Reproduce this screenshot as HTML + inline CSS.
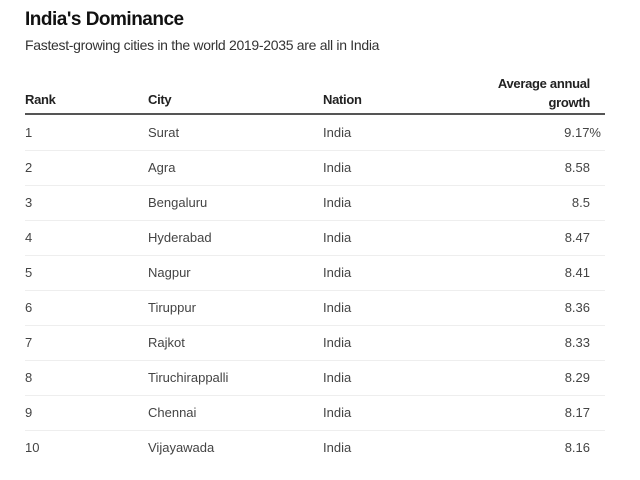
<!DOCTYPE html>
<html><head><style>
body{margin:0;width:640px;height:480px;background:#fff;font-family:"Liberation Sans",sans-serif;color:#222;position:relative;overflow:hidden}
.t{position:absolute;left:25px;top:9px;font-size:19px;font-weight:bold;color:#111;letter-spacing:-0.5px}
.s{position:absolute;left:25px;top:37px;font-size:14px;color:#333;letter-spacing:-0.3px}
.h{position:absolute;font-size:13px;font-weight:bold;color:#222;letter-spacing:-0.3px}
.r{position:absolute;left:25px;width:580px;height:35px;border-bottom:1px solid #eee;font-size:13px;color:#444}
.r span{position:absolute;top:10px}
.line{position:absolute;left:25px;top:113px;width:580px;height:2px;background:#555}
</style></head><body>
<div class="t">India's Dominance</div>
<div class="s">Fastest-growing cities in the world 2019-2035 are all in India</div>
<div class="h" style="left:25px;top:92px">Rank</div>
<div class="h" style="left:148px;top:92px">City</div>
<div class="h" style="left:323px;top:92px">Nation</div>
<div class="h" style="right:50px;top:74px;text-align:right;line-height:19px">Average annual<br>growth</div>
<div class="line"></div>
<div class="r" style="top:115px"><span style="left:0">1</span><span style="left:123px">Surat</span><span style="left:298px">India</span><span style="right:4px">9.17%</span></div>
<div class="r" style="top:150px"><span style="left:0">2</span><span style="left:123px">Agra</span><span style="left:298px">India</span><span style="right:15px">8.58</span></div>
<div class="r" style="top:185px"><span style="left:0">3</span><span style="left:123px">Bengaluru</span><span style="left:298px">India</span><span style="right:15px">8.5</span></div>
<div class="r" style="top:220px"><span style="left:0">4</span><span style="left:123px">Hyderabad</span><span style="left:298px">India</span><span style="right:15px">8.47</span></div>
<div class="r" style="top:255px"><span style="left:0">5</span><span style="left:123px">Nagpur</span><span style="left:298px">India</span><span style="right:15px">8.41</span></div>
<div class="r" style="top:290px"><span style="left:0">6</span><span style="left:123px">Tiruppur</span><span style="left:298px">India</span><span style="right:15px">8.36</span></div>
<div class="r" style="top:325px"><span style="left:0">7</span><span style="left:123px">Rajkot</span><span style="left:298px">India</span><span style="right:15px">8.33</span></div>
<div class="r" style="top:360px"><span style="left:0">8</span><span style="left:123px">Tiruchirappalli</span><span style="left:298px">India</span><span style="right:15px">8.29</span></div>
<div class="r" style="top:395px"><span style="left:0">9</span><span style="left:123px">Chennai</span><span style="left:298px">India</span><span style="right:15px">8.17</span></div>
<div class="r" style="top:430px;border-bottom:none"><span style="left:0">10</span><span style="left:123px">Vijayawada</span><span style="left:298px">India</span><span style="right:15px">8.16</span></div>
</body></html>
